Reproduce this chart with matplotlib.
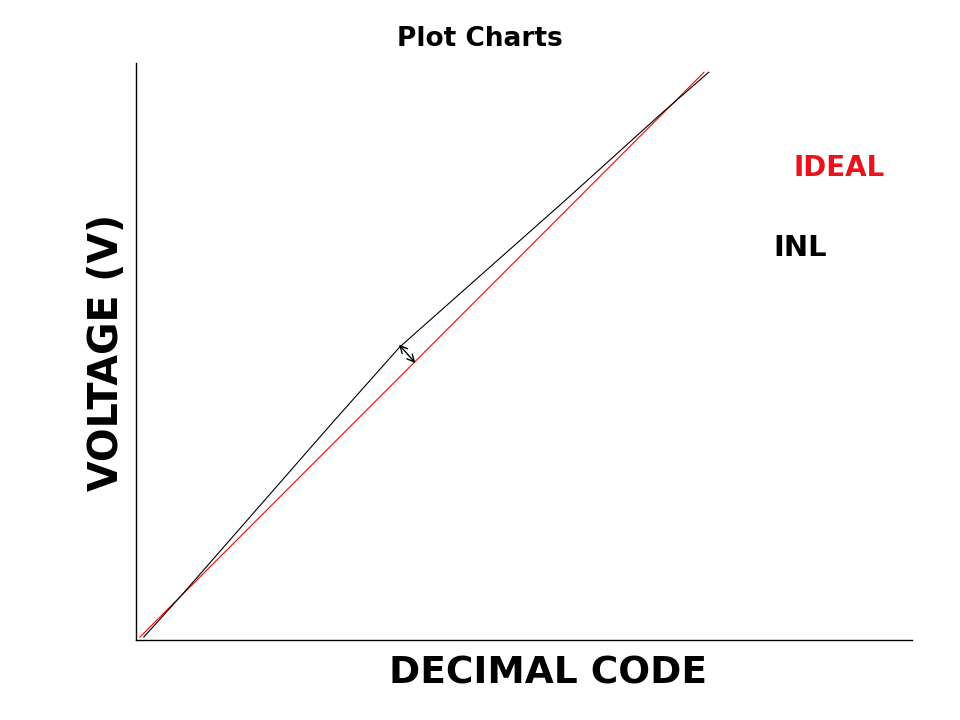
import matplotlib
matplotlib.use("Agg")
import matplotlib.pyplot as plt

# Data (decimal code in % of full scale, voltage in % of full scale)
ideal_code = [0.5, 73.2]
ideal_volt = [0.5, 98.4]
inl_code = [1.0, 5.9, 25.6, 34.0, 55.4, 67.5, 73.8]
inl_volt = [0.5, 7.8, 38.1, 50.8, 76.3, 91.0, 98.4]
arrow_start = (33.9, 51.2)
arrow_end = (36.0, 48.0)

W, H = 960, 720
fig = plt.figure(figsize=(9.6, 7.2), dpi=100)
ax = fig.add_axes([136 / W, (720 - 640) / H, (912 - 136) / W, (640 - 63) / H])
ax.set_xlim(0, 100)
ax.set_ylim(0, 100)
for s in ("top", "right"):
    ax.spines[s].set_visible(False)
for s in ("left", "bottom"):
    ax.spines[s].set_color("black")
    ax.spines[s].set_linewidth(1.0)
ax.set_xticks([])
ax.set_yticks([])

ax.plot(ideal_code, ideal_volt, color="red", lw=0.8)
ax.plot(inl_code, inl_volt, color="black", lw=0.8)
ax.annotate("", xy=arrow_end, xytext=arrow_start,
            arrowprops=dict(arrowstyle="<->", color="black", lw=1.0,
                            shrinkA=0, shrinkB=0, mutation_scale=13))

fig.text(480 / W, 1 - 39 / H, "Plot Charts", ha="center", va="center",
         fontsize=19, fontweight="bold", family="DejaVu Sans")
fig.text(548 / W, 1 - 673 / H, "DECIMAL CODE", ha="center", va="center",
         fontsize=27, fontweight="bold", family="DejaVu Sans")
fig.text(107 / W, 1 - 352 / H, "VOLTAGE (V)", ha="center", va="center",
         rotation=90, fontsize=28.5, fontweight="bold", family="DejaVu Sans")
fig.text(839 / W, 1 - 168 / H, "IDEAL", ha="center", va="center",
         fontsize=20, fontweight="bold", color="#e8141c", family="DejaVu Sans")
fig.text(800 / W, 1 - 248 / H, "INL", ha="center", va="center",
         fontsize=21, fontweight="bold", color="black", family="DejaVu Sans")

fig.savefig("out.png", dpi=100)
